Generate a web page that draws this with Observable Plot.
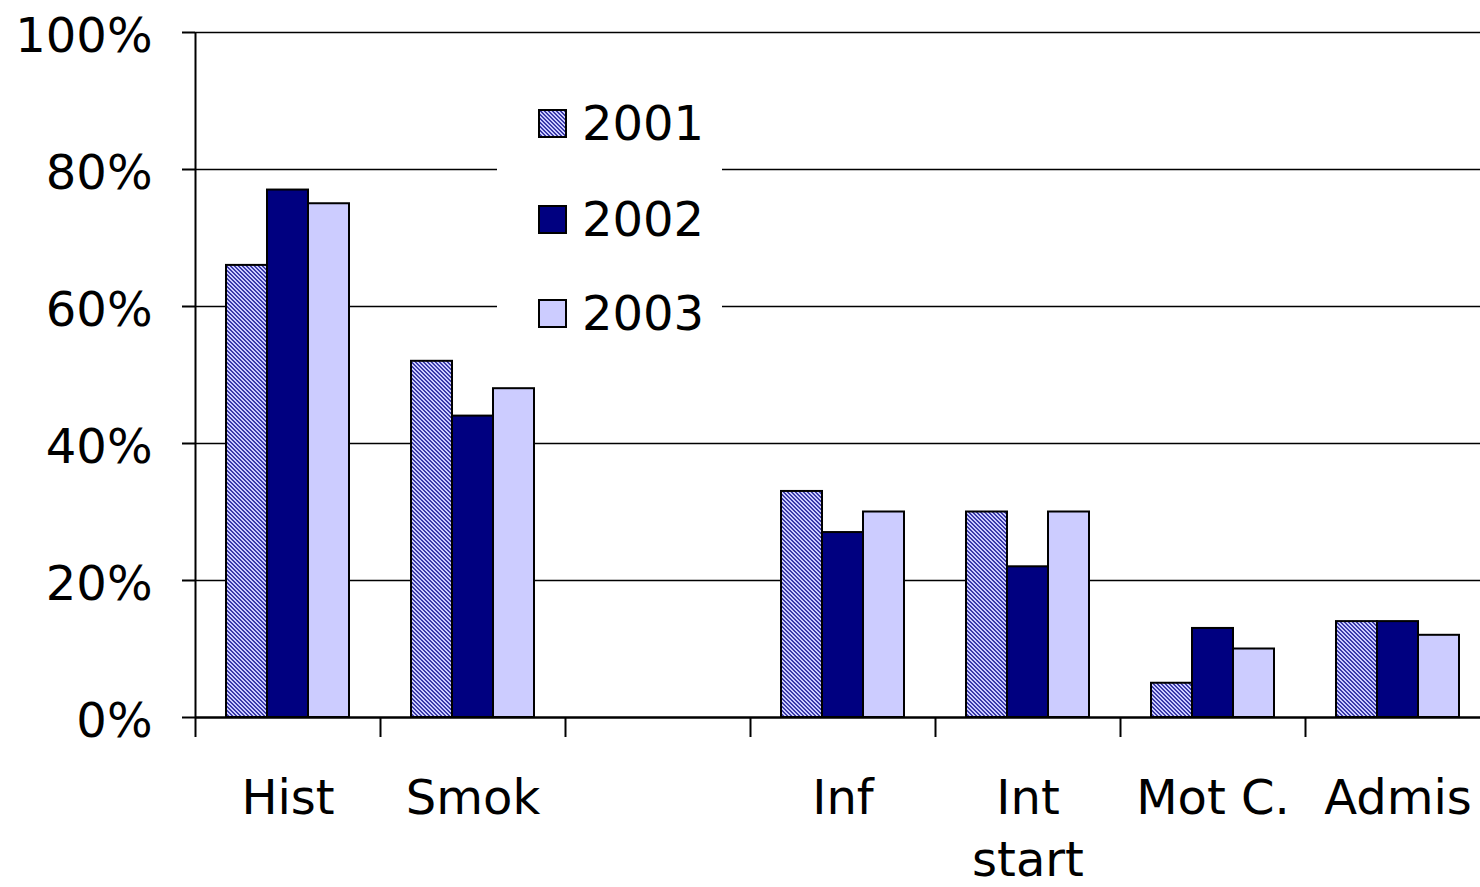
<!DOCTYPE html>
<html>
<head>
<meta charset="utf-8">
<script src="https://cdn.jsdelivr.net/npm/d3@7"></script>
<script src="https://cdn.jsdelivr.net/npm/@observablehq/plot@0.6"></script>
<style>
  html, body { margin: 0; padding: 0; background: white; overflow: hidden; }
  #wrap { position: relative; width: 1480px; height: 887px; overflow: hidden; }
  #legend { position: absolute; left: 497px; top: 80px; width: 225px; height: 272px; background: white;
            font-family: "DejaVu Sans", sans-serif; font-size: 48px; color: black; }
  .row { position: absolute; left: 41px; height: 60px; display: flex; align-items: center; }
  .sw { width: 25px; height: 25px; border: 2px solid black; margin-right: 15px; }
  .sw svg { display: block; }
</style>
</head>
<body>
<svg width="0" height="0" style="position:absolute">
  <defs>
    <pattern id="hatch" patternUnits="userSpaceOnUse" width="4" height="4">
      <rect width="4" height="4" fill="#ccccff"/>
      <g fill="#3a3aa8" shape-rendering="crispEdges">
        <rect x="0" y="0" width="1" height="1"/>
        <rect x="1" y="1" width="1" height="1"/>
        <rect x="2" y="2" width="1" height="1"/>
        <rect x="3" y="3" width="1" height="1"/>
        <rect x="1" y="0" width="1" height="1"/>
        <rect x="2" y="1" width="1" height="1"/>
        <rect x="3" y="2" width="1" height="1"/>
        <rect x="0" y="3" width="1" height="1"/>
      </g>
    </pattern>
  </defs>
</svg>
<div id="wrap"></div>
<script>
// ---- data ----
const categories = ["Hist", "Smok", "", "Inf", "Int start", "Mot C.", "Admis"];
const tickLabels = ["Hist", "Smok", "", "Inf", "Int\nstart", "Mot C.", "Admis"];
const years = ["2001", "2002", "2003"];
const v2001 = [66, 52, null, 33, 30, 5, 14];
const v2002 = [77, 44, null, 27, 22, 13, 14];
const v2003 = [75, 48, null, 30, 30, 10, 12];
const yTicks = [0, 20, 40, 60, 80, 100];
const fills = ["url(#hatch)", "#000080", "#ccccff"];

const series = [v2001, v2002, v2003];
const rows = [];
categories.forEach((c, i) => {
  years.forEach((yr, j) => rows.push({cat: c, year: yr, value: series[j][i]}));
});

// ---- layout ----
const W = 1490, H = 887, ML = 195, MT = 32, MB = 170;
const step = (W - ML) / categories.length;
const PO = 0.756;
const bw = step / (years.length + 2 * PO);

const chart = Plot.plot({
  width: W, height: H,
  marginLeft: ML, marginRight: 0, marginTop: MT, marginBottom: MB,
  style: {fontFamily: "DejaVu Sans", fontSize: "48px", color: "black", background: "white", maxWidth: "none", overflow: "visible"},
  fx: {domain: categories, padding: 0, axis: null, label: null},
  x: {domain: years, paddingInner: 0, paddingOuter: PO, axis: null, label: null},
  y: {domain: [0, 100], axis: null, label: null},
  color: {domain: years, range: fills},
  marks: [
    Plot.ruleY(yTicks.filter(d => d > 0), {stroke: "black", strokeWidth: 1.6}),
    Plot.barY(rows, {fx: "cat", x: "year", y: "value", fill: "year", stroke: "black", strokeWidth: 2}),
    Plot.ruleY([0], {stroke: "black", strokeWidth: 2.5}),
    Plot.ruleX([years[0]], {fx: () => categories[0], x: d => d, y1: 0, y2: 100,
                            dx: -bw * (PO + 0.5), stroke: "black", strokeWidth: 2}),
    Plot.axisY({ticks: yTicks, text: null, tickSize: 13, strokeWidth: 2, label: null}),
    Plot.axisY({ticks: yTicks, tickFormat: d => d + "%", tickSize: 0, tickPadding: 43,
                fontSize: 48, dy: 4, label: null}),
    Plot.axisFx({anchor: "bottom", tickSize: 20, text: null, dx: -step / 2, strokeWidth: 2, label: null}),
    Plot.axisFx({anchor: "bottom", tickSize: 0, tickPadding: 53, fontSize: 48, lineHeight: 1.28, label: null,
                 tickFormat: d => tickLabels[categories.indexOf(d)]})
  ]
});
const wrap = document.getElementById("wrap");
wrap.appendChild(chart);

// ---- legend ----
const legend = document.createElement("div");
legend.id = "legend";
const rowTops = [13, 109, 203];
years.forEach((yr, j) => {
  const r = document.createElement("div");
  r.className = "row";
  r.style.top = rowTops[j] + "px";
  const sw = document.createElement("div");
  sw.className = "sw";
  sw.innerHTML = `<svg width="25" height="25"><rect width="25" height="25" fill="${fills[j]}"/></svg>`;
  const t = document.createElement("span");
  t.textContent = yr;
  r.appendChild(sw); r.appendChild(t);
  legend.appendChild(r);
});
wrap.appendChild(legend);
</script>
</body>
</html>
